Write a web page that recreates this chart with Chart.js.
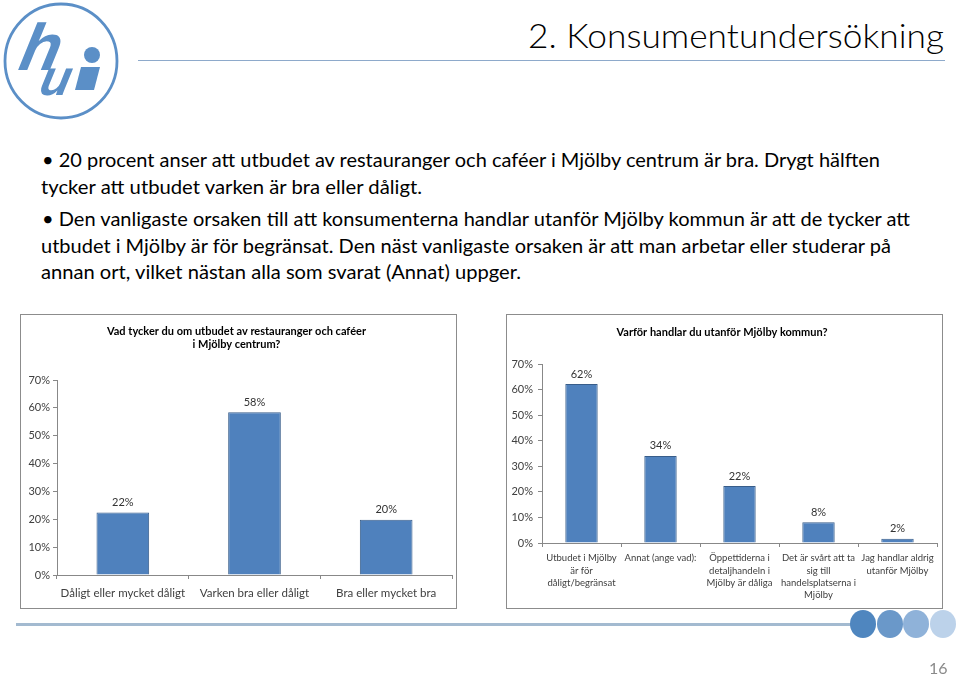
<!DOCTYPE html>
<html><head><meta charset="utf-8">
<script src="https://cdn.jsdelivr.net/npm/chart.js@4/dist/chart.umd.min.js"></script>
<style>
html,body{margin:0;padding:0;background:#fff;}
body{width:960px;height:675px;position:relative;overflow:hidden;font-family:Lato,"Open Sans",sans-serif;}
.t{position:absolute;white-space:nowrap;transform-origin:0 0;}
.box{position:absolute;border:1px solid #8c8c8c;width:435px;height:293px;}
.box canvas{display:block;}
</style></head><body>

<svg style="position:absolute;left:0;top:0" width="130" height="125">
  <ellipse cx="61" cy="61" rx="56" ry="57" fill="none" stroke="#5b8fc7" stroke-width="2.8"/>
  <g fill="#5b8fc7" font-family="Liberation Sans, Arial" font-weight="bold" font-style="italic">
    <text x="18" y="70" font-size="66" transform="skewX(-12) translate(14,0)">h</text>
    <text x="40" y="95" font-size="50" transform="skewX(-12) translate(18,0)">u</text>
  </g>
  <circle cx="92" cy="55" r="8" fill="#5b8fc7"/>
  <polygon points="81,67 100,67 94,90 75,90" fill="#5b8fc7"/>
</svg>

<div class="t" id="title" data-w="416" style="left:528px;top:15px;font-size:33px;font-weight:300;color:#000;">2. Konsumentundersökning</div>
<div style="position:absolute;left:138px;top:60px;width:807px;height:1px;background:#8eaacb;"></div>

<div class="t" data-w="838" style="left:42px;top:147px;font-size:20px;">• 20 procent anser att utbudet av restauranger och caféer i Mjölby centrum är bra. Drygt hälften</div>
<div class="t" data-w="381" style="left:41px;top:174px;font-size:20px;">tycker att utbudet varken är bra eller dåligt.</div>
<div class="t" data-w="868" style="left:42px;top:206px;font-size:20px;">• Den vanligaste orsaken till att konsumenterna handlar utanför Mjölby kommun är att de tycker att</div>
<div class="t" data-w="850" style="left:41px;top:233px;font-size:20px;">utbudet i Mjölby är för begränsat. Den näst vanligaste orsaken är att man arbetar eller studerar på</div>
<div class="t" data-w="480" style="left:41px;top:259px;font-size:20px;">annan ort, vilket nästan alla som svarat (Annat) uppger.</div>

<div class="box" style="left:20px;top:314px;"><canvas id="c1" width="435" height="293"></canvas></div>
<div class="box" style="left:506px;top:314px;"><canvas id="c2" width="435" height="293"></canvas></div>

<div style="position:absolute;left:16px;top:623px;width:840px;height:3px;background:#a3bad0;"></div>
<svg style="position:absolute;left:845px;top:605px" width="115" height="40">
  <ellipse cx="98" cy="19" rx="13" ry="14" fill="#bcd2ea"/>
  <ellipse cx="71" cy="19" rx="13" ry="14" fill="#8fb2d9"/>
  <ellipse cx="45" cy="19" rx="13" ry="14" fill="#6a98c9"/>
  <ellipse cx="18" cy="19" rx="13" ry="14" fill="#4f86bf"/>
</svg>
<div class="t" style="left:929px;top:658px;font-size:16px;color:#8a8a8a;">16</div>

<script>
// ---- data ----
const leftTitle = ["Vad tycker du om utbudet av restauranger och caféer", "i Mjölby centrum?"];
const leftCategories = ["Dåligt eller mycket dåligt", "Varken bra eller dåligt", "Bra eller mycket bra"];
const leftValues = [22.4, 58.4, 19.8];

const rightTitle = "Varför handlar du utanför Mjölby kommun?";
const rightCategories = [
  ["Utbudet i Mjölby", "är för", "dåligt/begränsat"],
  ["Annat (ange vad):"],
  ["Öppettiderna i", "detaljhandeln i", "Mjölby är dåliga"],
  ["Det är svårt att ta", "sig till", "handelsplatserna i", "Mjölby"],
  ["Jag handlar aldrig", "utanför Mjölby"]
];
const rightValues = [62.2, 34.1, 22.3, 8.1, 1.7];

const yMin = 0, yMax = 70, yStep = 10;

// ---- fit text widths ----
document.querySelectorAll('.t[data-w]').forEach(el => {
  const w = el.getBoundingClientRect().width;
  const target = +el.dataset.w;
  el.style.transform = 'scaleX(' + (target / w) + ')';
});

const FONT = 'Lato, "Open Sans", sans-serif';
const valueLabels = {
  id: 'valueLabels',
  afterDatasetsDraw(chart) {
    const ctx = chart.ctx;
    ctx.save();
    ctx.font = '11px ' + FONT;
    ctx.fillStyle = '#333';
    ctx.textAlign = 'center';
    ctx.textBaseline = 'middle';
    chart.getDatasetMeta(0).data.forEach((bar, i) => {
      const v = chart.data.datasets[0].data[i];
      ctx.fillText(Math.round(v) + '%', bar.x, bar.y - 10);
    });
    ctx.restore();
  }
};

function makeChart(id, labels, values, title, opts) {
  return new Chart(document.getElementById(id), {
    type: 'bar',
    data: { labels: labels, datasets: [{
      data: values, backgroundColor: '#4f81bd', borderColor: '#385d8a', borderWidth: 1,
      barPercentage: opts.barPct, categoryPercentage: 1
    }]},
    plugins: [valueLabels],
    options: {
      responsive: false, animation: false, devicePixelRatio: 1,
      layout: { padding: { left: 0, right: opts.padRight, top: 0, bottom: 0 } },
      plugins: {
        legend: { display: false }, tooltip: { enabled: false },
        title: { display: true, text: title, color: '#000',
          font: { family: FONT, size: 11, weight: 'bold', lineHeight: 1.2 },
          padding: opts.titlePad }
      },
      scales: {
        x: {
          border: { color: '#888', width: 1 },
          grid: { drawOnChartArea: false, drawTicks: true, tickLength: 4, color: '#888' },
          ticks: { color: '#404040', maxRotation: 0, autoSkip: false, padding: opts.xPad,
            font: { family: FONT, size: opts.xFont, lineHeight: opts.xLH } },
          afterFit(s) { s.height = opts.xH; }
        },
        y: {
          min: yMin, max: yMax,
          border: { color: '#888', width: 1 },
          grid: { drawOnChartArea: false, drawTicks: true, tickLength: 4, color: '#888' },
          ticks: { stepSize: yStep, color: '#404040', padding: opts.yPad,
            font: { family: FONT, size: 11 }, callback: v => v + '%' },
          afterFit(s) { s.width = opts.yW; }
        }
      }
    }
  });
}

makeChart('c1', leftCategories, leftValues, leftTitle,
  { barPct: 0.4, padRight: 4, titlePad: { top: 10, bottom: 28.6 }, xPad: 7, xFont: 11.5, xLH: 1.2, xH: 33, yPad: 3, yW: 36 });
makeChart('c2', rightCategories, rightValues, rightTitle,
  { barPct: 0.41, padRight: 5, titlePad: { top: 11, bottom: 25 }, xPad: 5, xFont: 9.5, xLH: 1.3, xH: 65, yPad: 5, yW: 35 });
</script>
</body></html>
